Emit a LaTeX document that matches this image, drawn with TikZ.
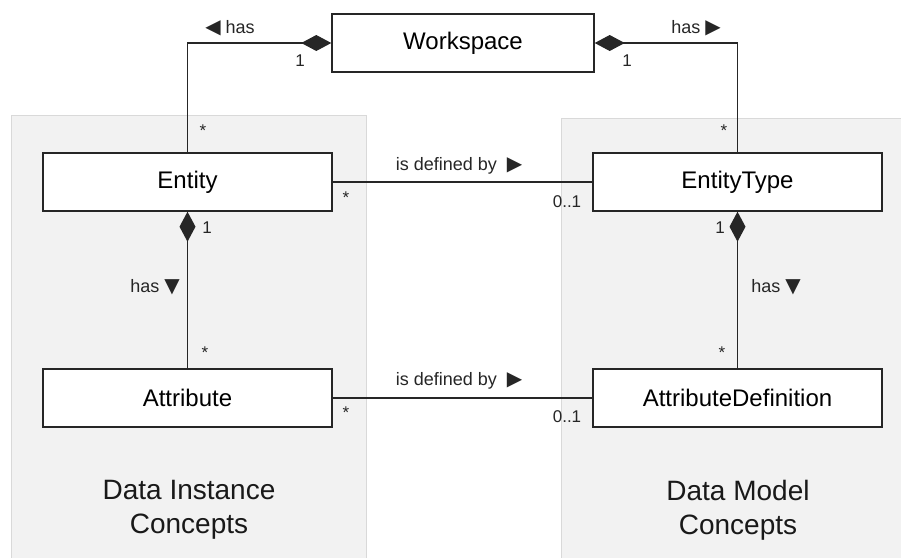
\documentclass[tikz,border=0pt]{standalone}
\usepackage{fontspec}
\setmainfont{Liberation Sans}
\newfontfamily\symfont{DejaVu Sans}
\usetikzlibrary{arrows.meta}

\tikzset{
  panel/.style={fill=black!5, draw=black!15, line width=1pt},
  cls/.style={draw=black!85, fill=white, line width=1.4pt, minimum width=289pt,
              minimum height=58pt, inner sep=0pt, font=\fontsize{24}{28}\selectfont},
  lbl/.style={inner sep=0pt, font=\fontsize{18}{22}\selectfont, text=black!85},
  mult/.style={inner sep=0pt, font=\fontsize{17}{20}\selectfont, text=black!85},
  title/.style={align=center, inner sep=0pt, font=\fontsize{28}{34}\selectfont, text=black!90},
  assoc/.style={draw=black!85, line width=1.4pt},
  comp/.style={assoc, {Diamond[length=30pt,width=16pt]}-}
}
\newcommand{\tri}[1]{{\symfont\fontsize{20}{22}\selectfont#1}}

\begin{document}
\begin{tikzpicture}[x=1pt,y=-1pt]
  \useasboundingbox (0,0) rectangle (901,557);

  % concept groups
  \path[panel] (11,115) rectangle (366,562);
  \path[panel] (561,118) rectangle (906,562);
  \node[title] (ditxt) at (189,510) {Data Instance\\Concepts};
  \node[title] (dmtxt) at (738,510) {Data Model\\Concepts};

  % classes
  \node[cls, minimum width=262pt] (ws) at (463,43) {Workspace};
  \node[cls] (ent)  at (187.5,182) {Entity};
  \node[cls] (et)   at (737.5,182) {EntityType};
  \node[cls] (attr) at (187.5,398) {Attribute};
  \node[cls] (adef) at (737.5,398) {AttributeDefinition};

  % associations
  \draw[comp] (ws.west) -| (ent.north);
  \draw[comp] (ws.east) -| (et.north);
  \draw[comp] (ent.south) -- (attr.north);
  \draw[comp] (et.south) -- (adef.north);
  \draw[assoc] (ent.east) -- (et.west);
  \draw[assoc] (attr.east) -- (adef.west);

  % association names
  \node[lbl] (l1) at (230,28) {\tri{◀}\ has};
  \node[lbl] (l2) at (696,28) {has\ \tri{▶}};
  \node[lbl] (l3) at (459,166) {is defined by\hspace{10pt}\tri{▶}};
  \node[lbl] (l4) at (459,381) {is defined by\hspace{10pt}\tri{▶}};
  \node[lbl] (l5) at (155,287) {has\ \tri{▼}};
  \node[lbl] (l6) at (776,287) {has\ \tri{▼}};

  % multiplicities
  \node[mult] (m1) at (300,61) {1};
  \node[mult] (m2) at (627,61) {1};
  \node[mult] (m3) at (203,131) {*};
  \node[mult] (m4) at (724,131) {*};
  \node[mult] (m5) at (346,198) {*};
  \node[mult] (m6) at (567,202) {0..1};
  \node[mult] (m7) at (207,228) {1};
  \node[mult] (m8) at (720,228) {1};
  \node[mult] (m9) at (205,353) {*};
  \node[mult] (m10) at (722,353) {*};
  \node[mult] (m11) at (346,413) {*};
  \node[mult] (m12) at (567,417) {0..1};
\end{tikzpicture}
\end{document}
